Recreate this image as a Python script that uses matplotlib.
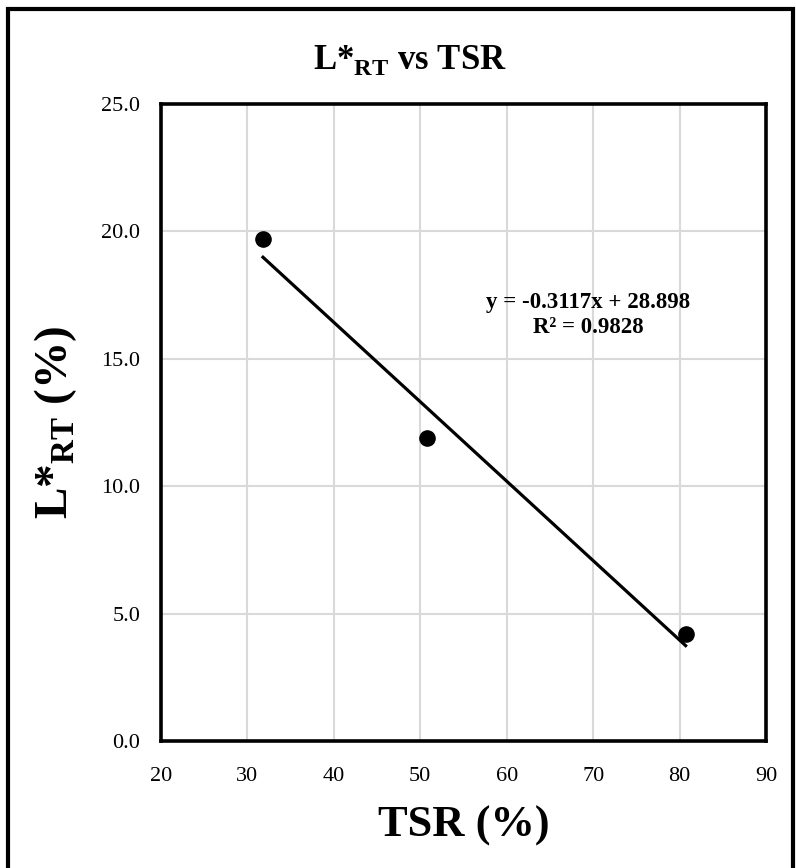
import numpy as np
import matplotlib
matplotlib.use("Agg")
import matplotlib.pyplot as plt
from matplotlib.patches import Rectangle

plt.rcParams['font.family'] = ['Liberation Serif', 'DejaVu Serif']
plt.rcParams['mathtext.fontset'] = 'custom'
plt.rcParams['mathtext.rm'] = 'Liberation Serif'
plt.rcParams['mathtext.bf'] = 'Liberation Serif:bold'

# measured samples
tsr = [31.8, 50.8, 80.7]
lstar_rt = [19.7, 11.9, 4.2]

# linear fit reported on the chart
slope = -0.3117
intercept = 28.898
r_squared = 0.9828

x_ticks = [20, 30, 40, 50, 60, 70, 80, 90]
y_ticks = [0.0, 5.0, 10.0, 15.0, 20.0, 25.0]

W, H = 796, 868
fig = plt.figure(figsize=(W / 100, H / 100), dpi=100)
ax = fig.add_axes([161 / W, 1 - 741 / H, (766 - 161) / W, (741 - 104) / H])

ax.set_xlim(20, 90)
ax.set_ylim(0, 25)
ax.set_xticks(x_ticks)
ax.set_yticks(y_ticks)
ax.set_yticklabels(['%.1f' % v for v in y_ticks])
ax.tick_params(axis='both', length=0, labelsize=16)
ax.tick_params(axis='x', pad=19)
ax.tick_params(axis='y', pad=15)
ax.grid(True, color='#d9d9d9', linewidth=1.5)
ax.set_axisbelow(True)
for sp in ax.spines.values():
    sp.set_linewidth(2.6)
    sp.set_color('black')

ax.scatter(tsr, lstar_rt, s=120, color='black', zorder=3)

xfit = np.array([min(tsr), max(tsr)])
ax.plot(xfit, slope * xfit + intercept, color='black', linewidth=2.3, zorder=2)

eq = 'y = %.4fx + %.3f\nR² = %.4f' % (slope, intercept, r_squared)
ax.text(588 / W, 1 - 315 / H, eq, transform=fig.transFigure, ha='center',
        va='center', fontsize=16.5, fontweight='bold', linespacing=1.25)

ax.set_xlabel('TSR (%)', fontsize=32, fontweight='bold', labelpad=14)
ax.set_ylabel(r'L*$_{\mathbf{RT}}$ (%)', fontsize=34, fontweight='bold', labelpad=16)

fig.text(410 / W, 1 - 60 / H, r'L*$_{\mathbf{RT}}$ vs TSR', ha='center', va='center',
         fontsize=25, fontweight='bold')

# chart-area border
fig.patches.append(Rectangle((8 / W, -0.05), (793 - 8) / W, 1.05 - 9 / H,
                             transform=fig.transFigure, fill=False,
                             edgecolor='black', linewidth=3))

fig.savefig('out.png', dpi=100)
